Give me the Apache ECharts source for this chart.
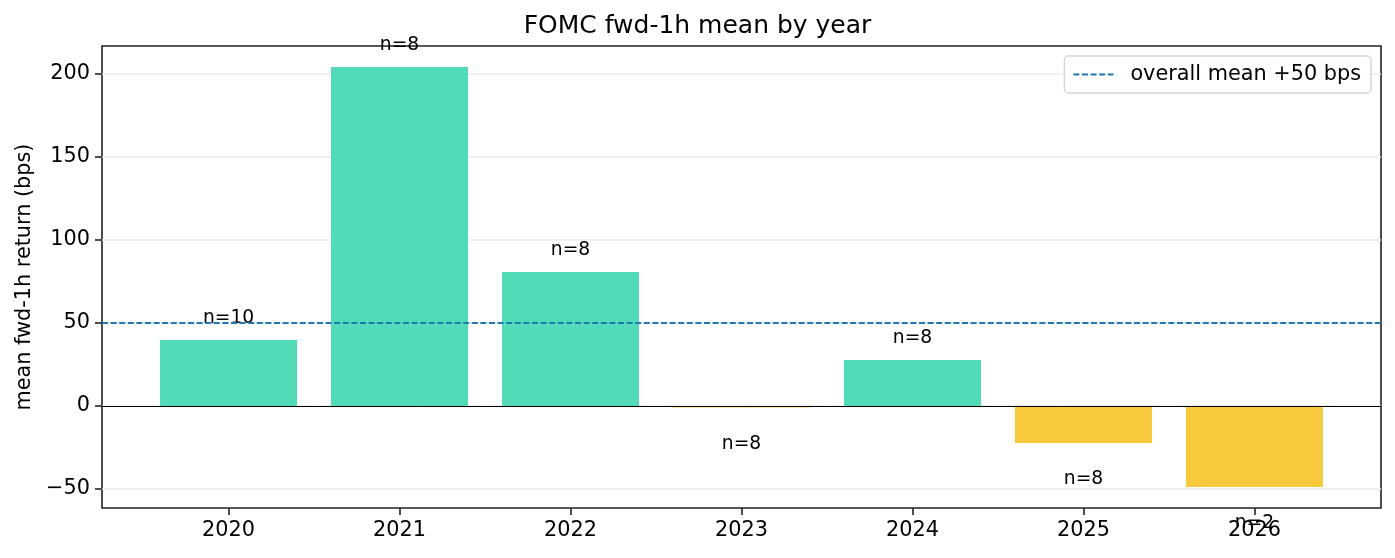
<!DOCTYPE html>
<html>
<head>
<meta charset="utf-8">
<script src="https://cdn.jsdelivr.net/npm/echarts@6/dist/echarts.min.js"></script>
<style>
  html, body { margin: 0; padding: 0; background: #fff; }
  #chart { width: 1395px; height: 558px; }
</style>
</head>
<body>
<div id="chart"></div>
<script>
const years = ['2020', '2021', '2022', '2023', '2024', '2025', '2026'];
const means = [39.8, 204.2, 80.7, -0.8, 27.7, -22.3, -48.8];
const counts = [10, 8, 8, 8, 8, 8, 2];
const overallMean = 50;
const yTicks = [-50, 0, 50, 100, 150, 200];
const xRange = [-0.74, 6.74];
const yRange = [-61.4, 216.9];

const FONT = 'DejaVu Sans';
const GREEN = '#52dbb8';
const YELLOW = '#f9c93d';

const xIdx = years.map((y, i) => i);

const barData = means.map((v, i) => ({
  value: [i, v],
  itemStyle: { color: v >= 0 ? GREEN : YELLOW },
  label: {
    position: v >= 0 ? 'top' : 'bottom',
    distance: v >= 0 ? 12 : 27
  }
}));

const chart = echarts.init(document.getElementById('chart'), null, { renderer: 'canvas' });

chart.setOption({
  animation: false,
  title: {
    text: 'FOMC fwd-1h mean by year',
    left: 'center',
    top: 9,
    textStyle: { fontFamily: FONT, fontSize: 25, fontWeight: 'normal', color: '#000' }
  },
  legend: {
    right: 24,
    top: 56,
    orient: 'vertical',
    itemWidth: 40,
    itemHeight: 14,
    padding: [8, 10, 8, 8],
    borderColor: '#d6d6d6',
    borderWidth: 1.5,
    borderRadius: 4,
    backgroundColor: 'rgba(255,255,255,0.8)',
    itemStyle: { opacity: 0 },
    textStyle: { fontFamily: FONT, fontSize: 20.8, color: '#000', padding: [0, 0, 0, 12] },
    data: ['overall mean +50 bps']
  },
  grid: {
    left: 102, right: 14, top: 46, bottom: 50,
    show: true,
    borderColor: '#222',
    borderWidth: 1.6,
    backgroundColor: 'transparent'
  },
  xAxis: {
    type: 'value',
    min: xRange[0],
    max: xRange[1],
    axisLine: { show: false, onZero: false },
    splitLine: { show: false },
    axisTick: {
      show: true, customValues: xIdx, length: 7,
      lineStyle: { color: '#222', width: 1.6 }
    },
    axisLabel: {
      customValues: xIdx,
      margin: 12,
      fontFamily: FONT, fontSize: 20.8, color: '#000',
      formatter: v => years[Math.round(v)]
    }
  },
  yAxis: {
    type: 'value',
    min: yRange[0],
    max: yRange[1],
    name: 'mean fwd-1h return (bps)',
    nameLocation: 'middle',
    nameGap: 67,
    nameTextStyle: { fontFamily: FONT, fontSize: 20.8, color: '#000' },
    axisLine: { show: false, onZero: false },
    splitLine: { show: false },
    axisTick: {
      show: true, customValues: yTicks, length: 7,
      lineStyle: { color: '#222', width: 1.6 }
    },
    axisLabel: {
      customValues: yTicks,
      margin: 12,
      fontFamily: FONT, fontSize: 20.8, color: '#000',
      formatter: v => (v < 0 ? '\u2212' + Math.abs(v) : String(v))
    }
  },
  series: [
    {
      name: 'grid',
      type: 'line',
      data: [],
      silent: true,
      z: 0,
      markLine: {
        silent: true,
        symbol: 'none',
        z: 0,
        label: { show: false },
        lineStyle: { color: '#ebebeb', width: 1.5, type: 'solid' },
        data: yTicks.map(t => ({ yAxis: t }))
      }
    },
    {
      name: 'mean by year',
      type: 'bar',
      barWidth: 137,
      z: 2,
      data: barData,
      label: {
        show: true,
        fontFamily: FONT,
        fontSize: 18.7,
        color: '#000',
        formatter: p => 'n=' + counts[p.dataIndex]
      },
      markLine: {
        silent: true,
        symbol: 'none',
        z: 4,
        label: { show: false },
        lineStyle: { color: '#000', width: 1, type: 'solid' },
        data: [{ yAxis: 0 }]
      }
    },
    {
      name: 'overall mean +50 bps',
      type: 'line',
      z: 3,
      symbol: 'none',
      silent: true,
      lineStyle: { color: '#1f77b4', width: 2, type: [6, 2.6] },
      itemStyle: { color: '#1f77b4' },
      data: [[xRange[0], overallMean], [xRange[1], overallMean]]
    }
  ]
});
</script>
</body>
</html>
